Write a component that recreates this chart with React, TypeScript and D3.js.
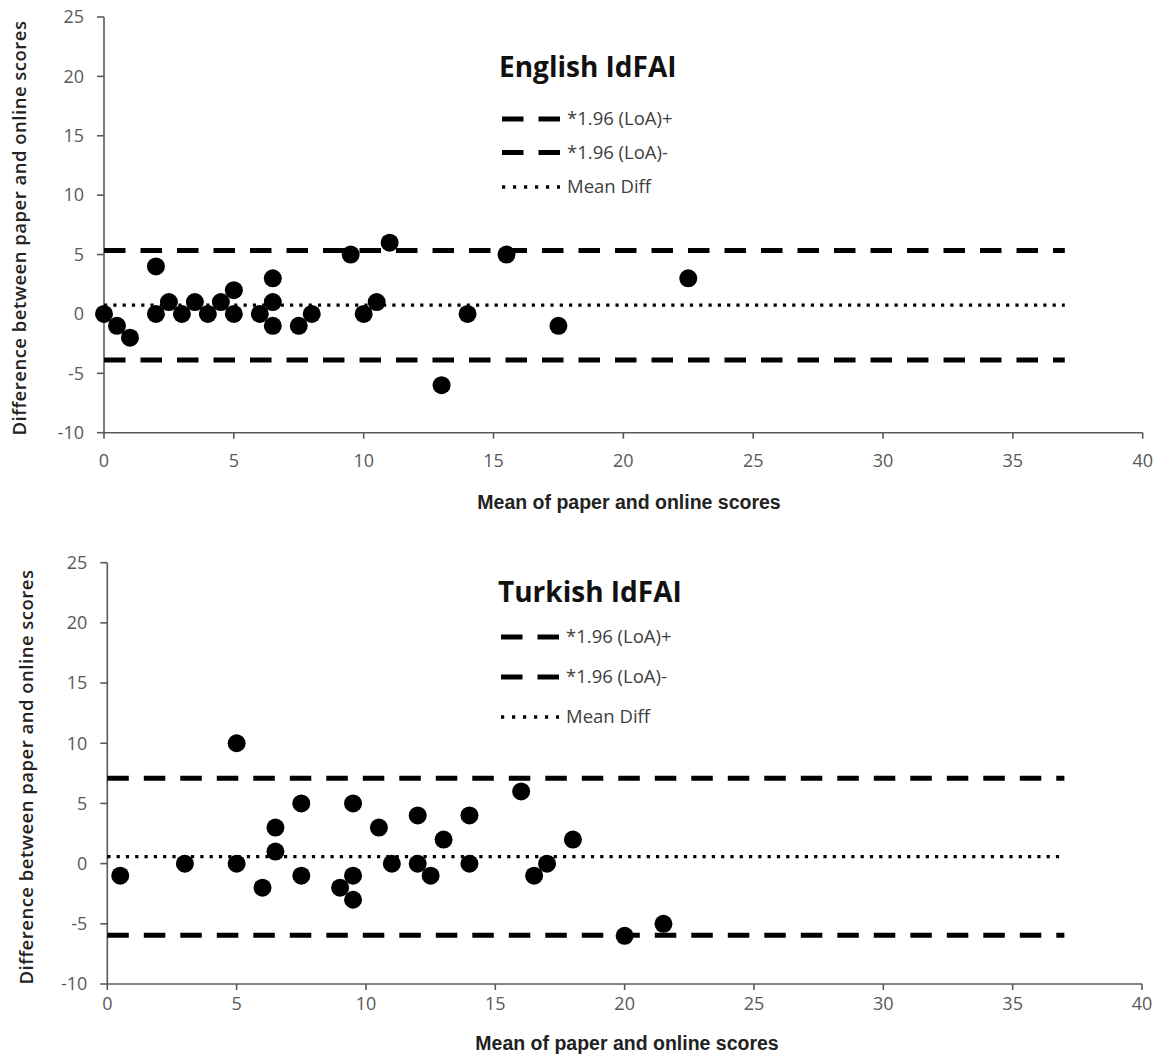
import React from 'react';
import * as d3 from 'd3';

// axis ticks
const xTicks = [0, 5, 10, 15, 20, 25, 30, 35, 40];
const yTicks = [-10, -5, 0, 5, 10, 15, 20, 25];

// English IdFAI: mean of paper and online scores vs difference
const englishMeans = [0, 0.5, 1, 2, 2, 2.5, 3, 3.5, 4, 4.5, 5, 5, 6, 6.5, 6.5, 6.5, 7.5, 8, 9.5, 10, 10.5, 11, 13, 14, 15.5, 17.5, 22.5];
const englishDiffs = [0, -1, -2, 4, 0, 1, 0, 1, 0, 1, 2, 0, 0, 3, 1, -1, -1, 0, 5, 0, 1, 6, -6, 0, 5, -1, 3];
// LoA+, LoA-, mean diff
const englishLines = [5.35, -3.87, 0.74];

// Turkish IdFAI
const turkishMeans = [0.5, 3, 5, 5, 6, 6.5, 6.5, 7.5, 7.5, 9, 9.5, 9.5, 9.5, 10.5, 11, 12, 12, 12.5, 13, 14, 14, 16, 16.5, 17, 18, 20, 21.5];
const turkishDiffs = [-1, 0, 10, 0, -2, 3, 1, 5, -1, -2, 5, -1, -3, 3, 0, 4, 0, -1, 2, 4, 0, 6, -1, 0, 2, -6, -5];
const turkishLines = [7.1, -5.95, 0.58];

const lineEnd = 37;
const legendLabels = ['*1.96 (LoA)+', '*1.96 (LoA)-', 'Mean Diff'];
const dashStyles = ['21.5,15', '21.5,15', '3.2,6.1'];
const legendDash = ['21.5,15', '21.5,15', '3.2,7.8'];

const tickFont = '"Open Sans", sans-serif';

function Panel(props: any) {
  const { title, means, diffs, lines, box } = props;
  const x = d3.scaleLinear().domain([0, 40]).range([box.left, box.right]);
  const y = d3.scaleLinear().domain([-10, 25]).range([box.bottom, box.top]);
  const line = d3.line<[number, number]>().x(d => x(d[0])).y(d => y(d[1]));

  return (
    <g>
      {/* axes */}
      <line x1={x(0)} x2={x(0)} y1={y(-10)} y2={y(25)} stroke="#5a5a5a" strokeWidth={1.6} />
      <line x1={x(0)} x2={x(40)} y1={y(-10)} y2={y(-10)} stroke="#5a5a5a" strokeWidth={1.6} />
      {yTicks.map(t => (
        <g key={'y' + t}>
          <line x1={x(0) - 7} x2={x(0)} y1={y(t)} y2={y(t)} stroke="#5a5a5a" strokeWidth={1.6} />
          <text x={x(0) - 20} y={y(t)} dy="0.35em" textAnchor="end" fontFamily={tickFont} fontSize={18} fill="#595959">{t}</text>
        </g>
      ))}
      {xTicks.map(t => (
        <g key={'x' + t}>
          <line x1={x(t)} x2={x(t)} y1={y(-10)} y2={y(-10) + 6} stroke="#5a5a5a" strokeWidth={1.6} />
          <text x={x(t)} y={box.xLabelY} dy="0.35em" textAnchor="middle" fontFamily={tickFont} fontSize={18} fill="#595959">{t}</text>
        </g>
      ))}

      {/* LoA and mean lines */}
      {lines.map((v: number, i: number) => (
        <path key={'l' + i} d={line([[0, v], [lineEnd, v]]) || ''} fill="none" stroke="#000"
          strokeWidth={i < 2 ? 5 : 3.3} strokeDasharray={dashStyles[i]} />
      ))}

      {/* points */}
      {means.map((m: number, i: number) => (
        <circle key={'p' + i} cx={x(m)} cy={y(diffs[i])} r={9} fill="#000" />
      ))}

      {/* title + legend */}
      <text x={box.legendX - 3} y={box.titleY} dy="0.35em" fontFamily='"Open Sans", sans-serif' fontWeight={700} fontSize={28} fill="#111">{title}</text>
      {legendLabels.map((lab, i) => (
        <g key={'lg' + i}>
          <line x1={box.legendX} x2={box.legendX + 58} y1={box.legendRows[i]} y2={box.legendRows[i]} stroke="#000"
            strokeWidth={i < 2 ? 5 : 3.3} strokeDasharray={legendDash[i]} />
          <text x={box.legendX + 65} y={box.legendRows[i]} dy="0.35em" fontFamily={tickFont} fontSize={18.5} fill="#404040">{lab}</text>
        </g>
      ))}

      {/* axis titles */}
      <text transform={`translate(${box.yTitleX},${box.yTitleY}) rotate(-90)`} dy="0.35em" textAnchor="middle"
        fontFamily='"Open Sans", sans-serif' fontWeight={600} fontSize={18.5} letterSpacing={0.5} fill="#222">
        Difference between paper and online scores
      </text>
      <text x={box.xTitleX} y={box.xTitleY} dy="0.35em" textAnchor="middle" fontFamily='"Liberation Sans", Arial, sans-serif'
        fontWeight={700} fontSize={19.5} fill="#222">
        Mean of paper and online scores
      </text>
    </g>
  );
}

export default function App() {
  const topBox = {
    left: 104, right: 1142.7, top: 17, bottom: 432.7,
    xLabelY: 461, xTitleX: 629, xTitleY: 502,
    yTitleX: 20, yTitleY: 228,
    titleY: 67, legendX: 502, legendRows: [119, 152.5, 187],
  };
  const bottomBox = {
    left: 107.3, right: 1142, top: 562.7, bottom: 984,
    xLabelY: 1004, xTitleX: 627, xTitleY: 1043,
    yTitleX: 27, yTitleY: 777,
    titleY: 592, legendX: 501, legendRows: [637, 677, 717],
  };
  return (
    <svg width={1163} height={1059} style={{ position: 'absolute', left: 0, top: 0, background: '#fff' }}>
      <Panel title="English IdFAI" means={englishMeans} diffs={englishDiffs} lines={englishLines} box={topBox} />
      <Panel title="Turkish IdFAI" means={turkishMeans} diffs={turkishDiffs} lines={turkishLines} box={bottomBox} />
    </svg>
  );
}
